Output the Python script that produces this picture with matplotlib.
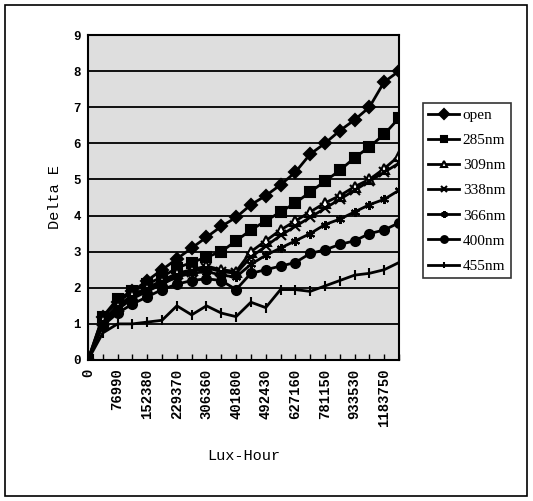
import matplotlib
matplotlib.use("Agg")
import matplotlib.pyplot as plt
from matplotlib.patches import Rectangle
import numpy as np

# tick labels shown on the category axis (every second category is labelled)
lux_hour_labels = ["0", "76990", "152380", "229370", "306360", "401800",
                   "492430", "627160", "781150", "933530", "1183750"]

series_names = ["open", "285nm", "309nm", "338nm", "366nm", "400nm", "455nm"]

open_vals = [0, 1.2, 1.6, 1.9, 2.2, 2.5, 2.8, 3.1, 3.4, 3.7, 3.95, 4.3,
             4.55, 4.85, 5.2, 5.7, 6.0, 6.35, 6.65, 7.0, 7.7, 8.0]
nm285 = [0, 1.2, 1.7, 1.9, 2.1, 2.3, 2.55, 2.7, 2.85, 3.0, 3.3, 3.6,
         3.85, 4.1, 4.35, 4.65, 4.95, 5.25, 5.6, 5.9, 6.25, 6.7]
nm309 = [0, 1.1, 1.5, 1.8, 2.0, 2.2, 2.4, 2.5, 2.6, 2.5, 2.45, 3.0,
         3.3, 3.6, 3.85, 4.1, 4.35, 4.55, 4.8, 5.0, 5.3, 5.65]
nm338 = [0, 1.05, 1.45, 1.75, 1.95, 2.15, 2.35, 2.45, 2.55, 2.45, 2.4, 2.85,
         3.15, 3.45, 3.7, 3.95, 4.2, 4.45, 4.7, 4.95, 5.2, 5.45]
nm366 = [0, 1.0, 1.4, 1.7, 1.9, 2.1, 2.3, 2.4, 2.45, 2.35, 2.3, 2.65,
         2.9, 3.1, 3.3, 3.5, 3.75, 3.9, 4.1, 4.3, 4.45, 4.7]
nm400 = [0, 0.95, 1.3, 1.55, 1.75, 1.95, 2.1, 2.2, 2.25, 2.2, 1.95, 2.4,
         2.5, 2.6, 2.7, 2.95, 3.05, 3.2, 3.3, 3.5, 3.6, 3.8]
nm455 = [0, 0.75, 1.0, 1.0, 1.05, 1.1, 1.5, 1.25, 1.5, 1.3, 1.2, 1.6,
         1.45, 1.95, 1.95, 1.9, 2.05, 2.2, 2.35, 2.4, 2.5, 2.7]

all_series = [open_vals, nm285, nm309, nm338, nm366, nm400, nm455]
# excel default marker cycle
markers = ["D", "s", "^", "x", (6, 2, 0), "o", "|"]
marker_faces = ["black", "black", "white", "black", "black", "black", "black"]

fig = plt.figure(figsize=(5.33, 5.01), dpi=100)
ax = fig.add_axes([88 / 533, 1 - 360 / 501, 311 / 533, 325 / 501])

x = np.arange(len(open_vals))
for vals, name, m, fc in zip(all_series, series_names, markers, marker_faces):
    ax.plot(x, vals, color="black", linewidth=2.0, marker=m, markersize=6.5,
            markerfacecolor=fc, markeredgecolor="black", markeredgewidth=1.5,
            label=name)

ax.set_facecolor("#dedede")
ax.set_xlim(0, len(x) - 1)
ax.set_ylim(0, 9)
ax.set_yticks(range(0, 10))
for yv in range(1, 9):
    ax.axhline(yv, color="black", linewidth=1.3, zorder=1)

ax.set_xticks(x)
ax.set_xticklabels([lux_hour_labels[i // 2] if i % 2 == 0 else "" for i in x],
                   rotation=90, fontfamily="Liberation Mono",
                   fontweight="bold", fontsize=10)
ax.tick_params(axis="x", direction="in", length=4, width=1, pad=6)
ax.tick_params(axis="y", length=0, pad=5, labelsize=9)
for lbl in ax.get_yticklabels():
    lbl.set_fontfamily("Liberation Mono")
    lbl.set_fontweight("bold")
for s in ax.spines.values():
    s.set_linewidth(1.5)

ax.set_ylabel("Delta E", fontfamily="Liberation Mono", fontsize=11)
ax.yaxis.set_label_coords(-0.085, 0.5)
ax.set_xlabel("Lux-Hour", fontfamily="Liberation Mono", fontsize=11)
ax.xaxis.set_label_coords(0.5, -0.275)

leg = ax.legend(loc="upper left", bbox_to_anchor=(423 / 533, 1 - 103 / 501),
                bbox_transform=fig.transFigure, frameon=True, fancybox=False,
                edgecolor="black", handlelength=2.0, borderpad=0.35,
                labelspacing=0.75, handletextpad=0.25, borderaxespad=0,
                prop={"family": "Liberation Serif", "size": 11},
                markerscale=0.75)
leg.get_frame().set_linewidth(1.2)

fig.patches.append(Rectangle((5 / 533, 5 / 501), 522 / 533, 491 / 501,
                             transform=fig.transFigure, fill=False,
                             edgecolor="black", linewidth=1.2))

fig.savefig("out.png", dpi=100)
